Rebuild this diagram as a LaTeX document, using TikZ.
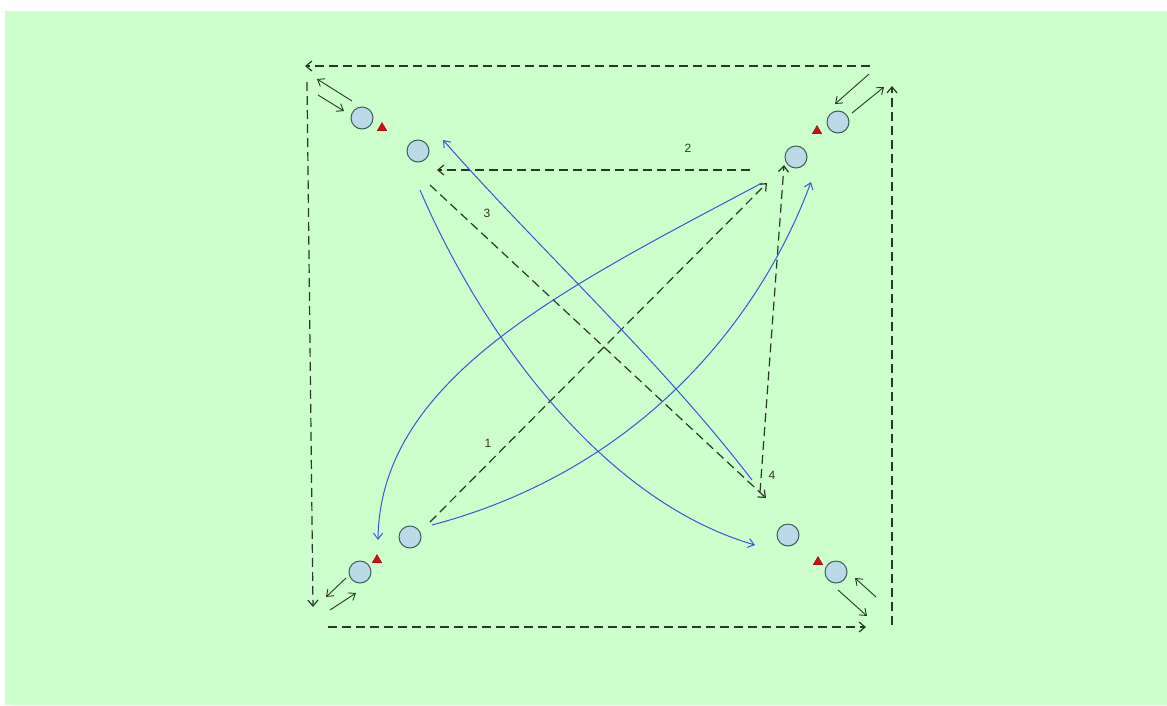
\documentclass[tikz,border=0pt]{standalone}
\usetikzlibrary{arrows.meta,shapes.geometric}
\usepackage{fontspec}
\setmainfont{Liberation Sans}
\definecolor{bg}{HTML}{CCFFCC}
\definecolor{pl}{HTML}{BBD9E6}
\definecolor{pe}{HTML}{3E5A5A}
\definecolor{dl}{HTML}{2A382A}
\definecolor{bl}{HTML}{3358D8}
\definecolor{cone}{HTML}{CC1111}
\tikzset{
  player/.style={circle,draw=pe,fill=pl,line width=1pt,minimum size=22pt,inner sep=0pt},
  conemark/.style={regular polygon,regular polygon sides=3,fill=cone,draw=cone!70!black,inner sep=0pt,minimum size=11pt},
  run/.style={dl,line width=1.2pt,dash pattern=on 9pt off 5pt,-{Straight Barb[length=6pt,width=10pt]}},
  pass/.style={bl,line width=1pt,-{Straight Barb[length=6pt,width=9pt]}},
  small/.style={dl,line width=0.9pt,-{Straight Barb[length=6pt,width=9pt]}},
  lab/.style={font=\fontsize{12pt}{13pt}\selectfont,text=dl}
}
\begin{document}
\begin{tikzpicture}[x=1pt,y=-1pt]
\useasboundingbox (0,0) rectangle (1167,705);
\fill[white] (0,0) rectangle (1167,705);
\fill[bg] (5,11) rectangle (1167,705);
% players
\node[player] (tlo) at (362,118) {};
\node[player] (tli) at (418,151) {};
\node[player] (tro) at (838,122) {};
\node[player] (tri) at (796,157) {};
\node[player] (blo) at (360,572) {};
\node[player] (bli) at (410,537) {};
\node[player] (bro) at (836,572) {};
\node[player] (bri) at (788,535) {};
\node[conemark] (tlc) at (382,128) {};
\node[conemark] (trc) at (817,131) {};
\node[conemark] (blc) at (377,560) {};
\node[conemark] (brc) at (818,562) {};
% perimeter runs
\coordinate (p1) at (870,66); \coordinate (p2) at (305,66);
\coordinate (p3) at (307,82); \coordinate (p4) at (313,607);
\coordinate (p5) at (328,627); \coordinate (p6) at (866,627);
\coordinate (p7) at (892,625); \coordinate (p8) at (892,86);
\draw[run] (p1) -- (p2);
\draw[run] (p3) -- (p4);
\draw[run] (p5) -- (p6);
\draw[run] (p7) -- (p8);
% small arrows
\coordinate (a1) at (352,101); \coordinate (a2) at (317,79);
\coordinate (a3) at (318,95); \coordinate (a4) at (344,111);
\draw[small] (a1) -- (a2); \draw[small] (a3) -- (a4);
\coordinate (b1) at (869,74); \coordinate (b2) at (835,104);
\coordinate (b3) at (852,113); \coordinate (b4) at (884,87);
\draw[small] (b1) -- (b2); \draw[small] (b3) -- (b4);
\coordinate (c1) at (346,578); \coordinate (c2) at (326,597);
\coordinate (c3) at (330,610); \coordinate (c4) at (356,593);
\draw[small] (c1) -- (c2); \draw[small] (c3) -- (c4);
\coordinate (d1) at (876,597); \coordinate (d2) at (855,578);
\coordinate (d3) at (838,590); \coordinate (d4) at (867,616);
\draw[small] (d1) -- (d2); \draw[small] (d3) -- (d4);
% numbered runs
\coordinate (r2s) at (750,170); \coordinate (r2e) at (437,170);
\draw[run] (r2s) -- (r2e);
\node[lab] (l2) at (688,148) {2};
\coordinate (r3s) at (430,185); \coordinate (r3e) at (766,498);
\draw[run] (r3s) -- (r3e);
\node[lab] (l3) at (487,213) {3};
\coordinate (r1s) at (430,522); \coordinate (r1e) at (767,183);
\draw[run] (r1s) -- (r1e);
\node[lab] (l1) at (488,443) {1};
\coordinate (r4s) at (760,492); \coordinate (r4e) at (784,165);
\draw[run] (r4s) -- (r4e);
\node[lab] (l4) at (772,475) {4};
% passes
\coordinate (ps1) at (762,183); \coordinate (pe1) at (378,540);
\draw[pass] (ps1) .. controls (560,290) and (380,380) .. (pe1);
\coordinate (ps2) at (432,525); \coordinate (pe2) at (811,182);
\draw[pass] (ps2) .. controls (640,470) and (760,320) .. (pe2);
\coordinate (ps3) at (420,190); \coordinate (pe3) at (755,545);
\draw[pass] (ps3) .. controls (480,330) and (600,500) .. (pe3);
\coordinate (ps4) at (752,480); \coordinate (pe4) at (443,140);
\draw[pass] (ps4) .. controls (660,360) and (540,250) .. (pe4);
\end{tikzpicture}
\end{document}
